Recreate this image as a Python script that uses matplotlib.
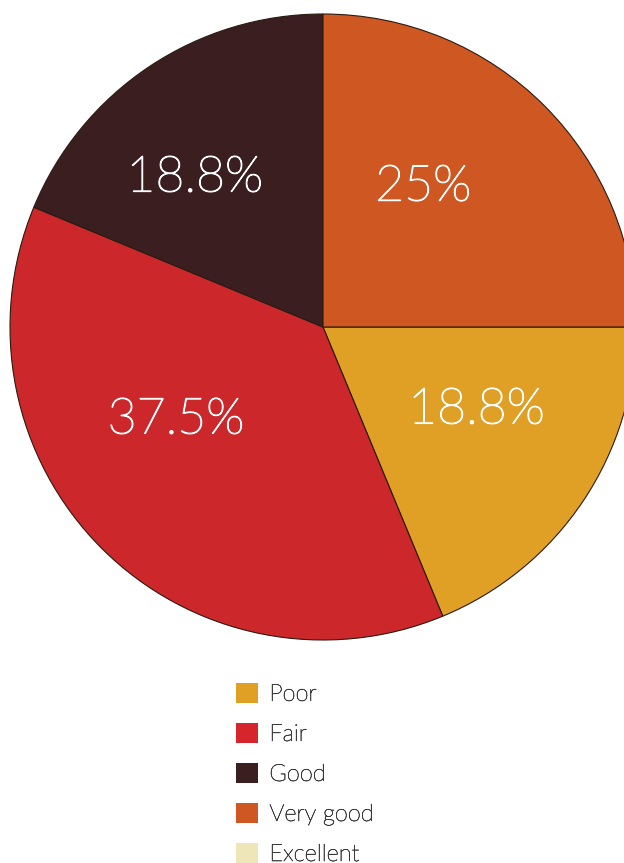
import matplotlib
matplotlib.use("Agg")
import matplotlib.pyplot as plt
import matplotlib.patheffects as pe
from matplotlib.patches import Patch

categories = ["Poor", "Fair", "Good", "Very good", "Excellent"]
counts = [3, 6, 3, 4, 0]
colors = ["#E0A026", "#CC282B", "#3B1F20", "#CF5722", "#EEE5B8"]
legend_colors = ["#E0A026", "#D7262B", "#3B1F20", "#CF5722", "#EEE5B8"]

# where each percentage sits inside its wedge (pie radius = 1)
label_pos = [(0.49, -0.265), (-0.47, -0.297), (-0.41, 0.476), (0.32, 0.447)]

W, H = 624, 863
fig = plt.figure(figsize=(W / 100, H / 100), dpi=100)
fig.patch.set_facecolor("white")

cx, cy, r = 323, 327, 313
ax = fig.add_axes([(cx - r) / W, (H - cy - r) / H, 2 * r / W, 2 * r / H])

total = sum(counts)
shown = [(c, col) for c, col in zip(counts, colors) if c > 0]
wedges, _ = ax.pie([c for c, _ in shown], colors=[col for _, col in shown],
                   startangle=0, counterclock=False, radius=1,
                   wedgeprops=dict(edgecolor="#2a1a10", linewidth=0.8))
for w in wedges:
    w.set_clip_on(False)
ax.set_xlim(-1, 1)
ax.set_ylim(-1, 1)
ax.set_axis_off()

thicken = [pe.withStroke(linewidth=0.9, foreground="white")]
for (c, _), (x, y) in zip(shown, label_pos):
    pct = round(100 * c / total, 1)
    txt = f"{pct:g}%"
    ax.text(x, y, txt, ha="center", va="center", color="white",
            fontsize=36, family="Lato", fontweight="light",
            path_effects=thicken)

handles = [Patch(facecolor=col, edgecolor="none") for col in legend_colors]
leg = fig.legend(handles, categories, loc="upper left",
                 bbox_to_anchor=(224 / W, 1 - 671 / H),
                 frameon=False,
                 prop=dict(family="Lato", weight="light", size=17),
                 handlelength=0.92, handleheight=0.92,
                 handletextpad=0.5, labelspacing=0.76, borderpad=0)
for t in leg.get_texts():
    t.set_color("#3a3a3a")
    t.set_path_effects([pe.withStroke(linewidth=0.4, foreground="#3a3a3a")])

fig.savefig("out.png", dpi=100)
